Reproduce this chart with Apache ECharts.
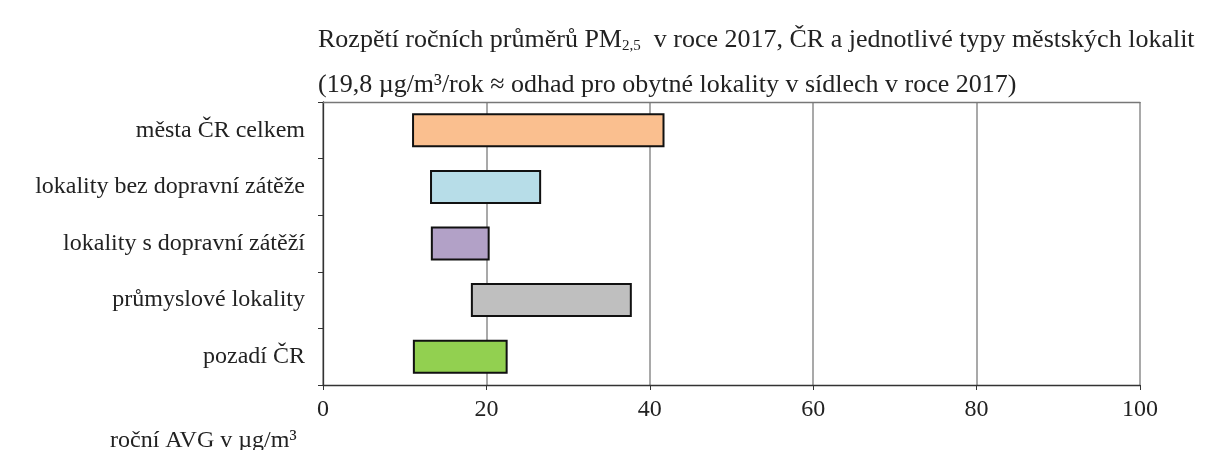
<!DOCTYPE html>
<html>
<head>
<meta charset="utf-8">
<script src="https://cdn.jsdelivr.net/npm/echarts@6/dist/echarts.min.js"></script>
<style>html,body{margin:0;padding:0;background:#fff}#c{width:1208px;height:450px}</style>
</head>
<body>
<div id="c"></div>
<script>
var categories = ['města ČR celkem', 'lokality bez dopravní zátěže', 'lokality s dopravní zátěží', 'průmyslové lokality', 'pozadí ČR'];
var lowValues = [10.9, 13.1, 13.2, 18.1, 11.0];
var highValues = [41.8, 26.7, 20.4, 37.8, 22.6];
var barColors = ['#FABF8F', '#B7DDE8', '#B2A1C7', '#BFBFBF', '#92D050'];
var xTicks = [0, 20, 40, 60, 80, 100];

var FONT = 'Liberation Serif';
var chart = echarts.init(document.getElementById('c'));
var rangeData = categories.map(function (c, i) {
  return { value: +(highValues[i] - lowValues[i]).toFixed(2), itemStyle: { color: barColors[i] } };
});
chart.setOption({
  animation: false,
  textStyle: { fontFamily: FONT, color: '#222' },
  title: [{
    left: 318, top: 26, padding: 0,
    text: '{a|Rozpětí ročních průměrů PM}{s|2,5}{a|  v roce 2017, ČR a jednotlivé typy městských lokalit}',
    textStyle: { rich: {
      a: { fontFamily: FONT, fontSize: 26, fontWeight: 'normal', color: '#222' },
      s: { fontFamily: FONT, fontSize: 15, fontWeight: 'normal', color: '#222', verticalAlign: 'bottom', padding: [13, 0, 0, 0] }
    } }
  }, {
    left: 318, top: 72, padding: 0,
    text: '(19,8 µg/m³/rok ≈ odhad pro obytné lokality v sídlech v roce 2017)',
    textStyle: { fontFamily: FONT, fontSize: 26, fontWeight: 'normal', color: '#222' }
  }, {
    left: 110, top: 429, padding: 0,
    text: 'roční AVG v µg/m³',
    textStyle: { fontFamily: FONT, fontSize: 24, fontWeight: 'normal', color: '#222' }
  }],
  grid: { left: 323, right: 68, top: 102, bottom: 65, containLabel: false },
  xAxis: [{
    type: 'value', min: 0, max: 100, interval: 20,
    axisLine: { show: true, lineStyle: { color: '#333', width: 1.3 } },
    axisTick: { show: true, length: 5, lineStyle: { color: '#333' } },
    axisLabel: { fontFamily: FONT, fontSize: 24, color: '#222', margin: 13,
      formatter: function (v) { return xTicks.indexOf(v) >= 0 ? String(v) : ''; } },
    splitLine: { show: true, lineStyle: { color: '#8c8c8c', width: 1.5 } }
  }, {
    type: 'value', position: 'top', min: 0, max: 100, interval: 20,
    axisLine: { show: true, lineStyle: { color: '#777', width: 1.3 } },
    axisTick: { show: false }, axisLabel: { show: false }, splitLine: { show: false }
  }],
  yAxis: {
    type: 'category', data: categories, inverse: true,
    axisLine: { show: true, lineStyle: { color: '#333', width: 1.3 } },
    axisTick: { show: true, length: 5, inside: false, lineStyle: { color: '#333' } },
    axisLabel: { fontFamily: FONT, fontSize: 24, color: '#222', margin: 18 }
  },
  series: [{
    type: 'bar', stack: 'r', data: lowValues, barCategoryGap: '40%',
    itemStyle: { color: 'rgba(0,0,0,0)' }, silent: true
  }, {
    type: 'bar', stack: 'r', data: rangeData, barCategoryGap: '40%',
    itemStyle: { borderColor: '#111', borderWidth: 2 }
  }]
});
</script>
</body>
</html>
